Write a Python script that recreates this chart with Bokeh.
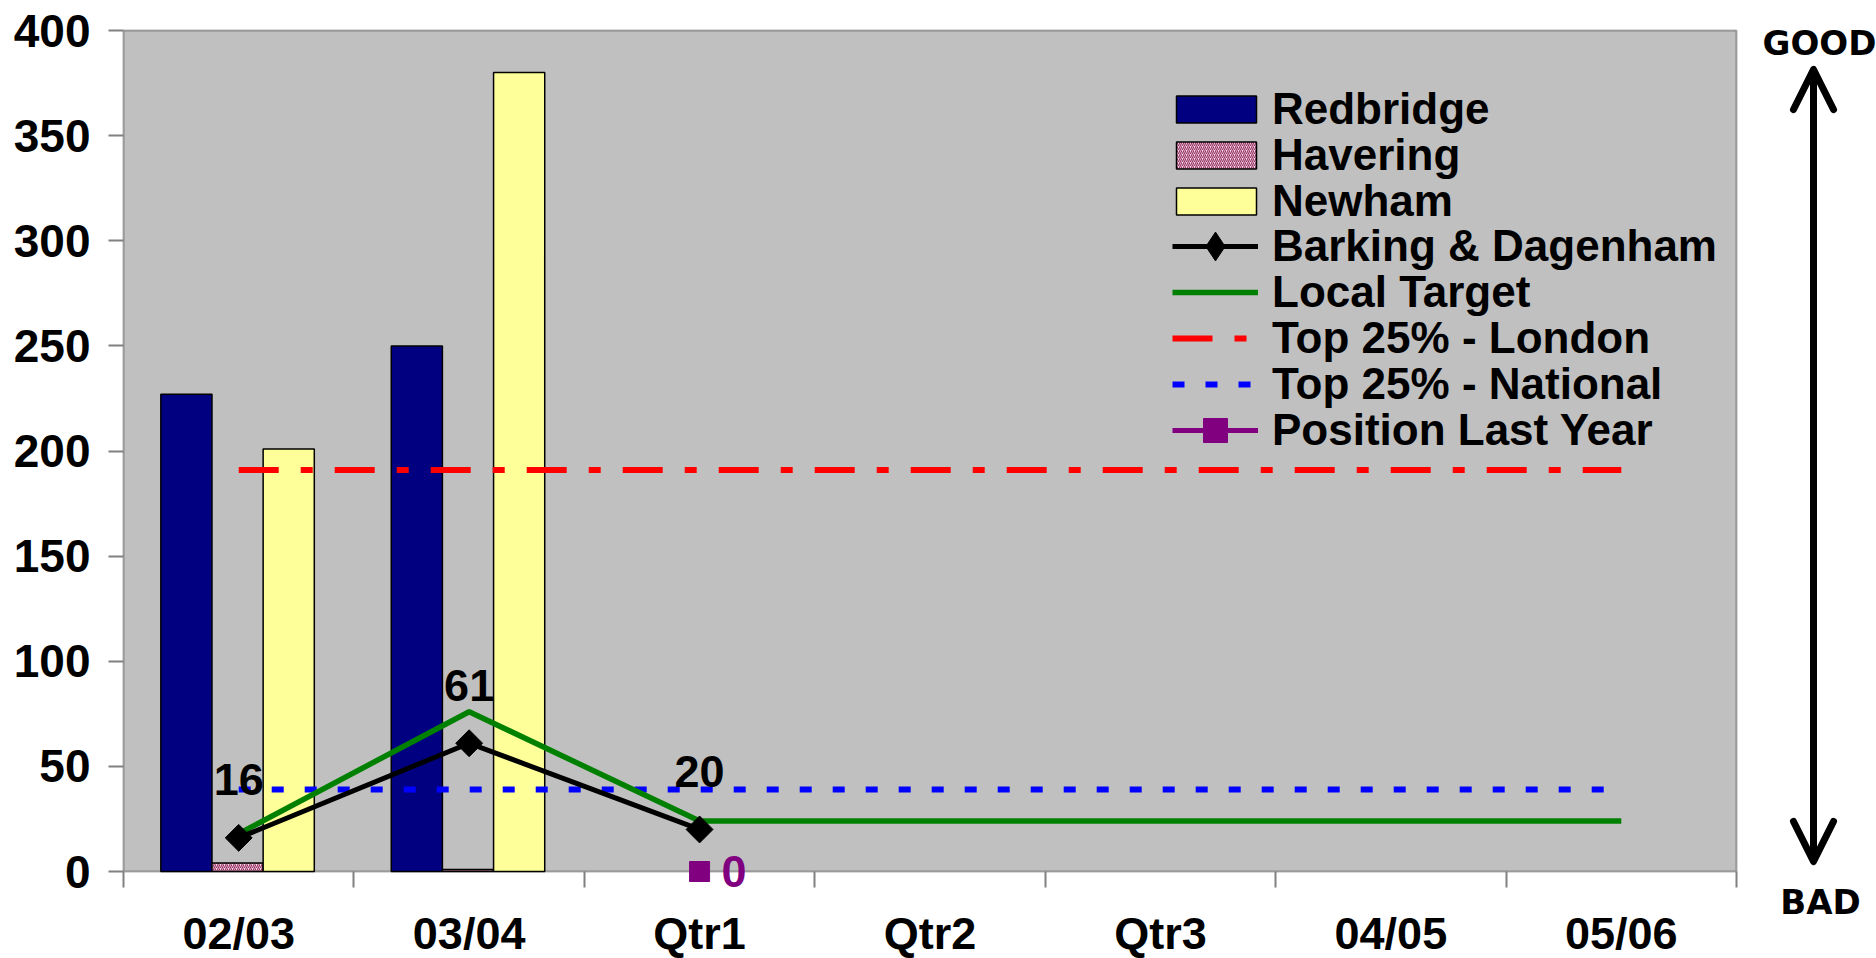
from bokeh.plotting import figure
from bokeh.models import (FixedTicker, Legend, LegendItem, Label, Arrow, OpenHead,
                          Range1d, BoxAnnotation)
from bokeh.core.properties import value
from bokeh.embed import file_html
from bokeh.resources import INLINE

# ---------------- data ----------------
categories = ["02/03", "03/04", "Qtr1", "Qtr2", "Qtr3", "04/05", "05/06"]
y_ticks = [0, 50, 100, 150, 200, 250, 300, 350, 400]

bar_categories = ["02/03", "03/04"]
redbridge = [227, 250]
havering = [4, 1]
newham = [201, 380]

barking_categories = ["02/03", "03/04", "Qtr1"]
barking = [16, 61, 20]

local_target = [18, 76, 24, 24, 24, 24, 24]
top25_london = [191, 191, 191, 191, 191, 191, 191]
top25_national = [39, 39, 39, 39, 39, 39, 39]

last_year_categories = ["Qtr1"]
position_last_year = [0]

# ---------------- layout constants (pixels) ----------------
W, H = 1876, 958
PLOT_L, PLOT_R, PLOT_T, PLOT_B = 123, 1736, 30, 871   # grey plot area on the page
N = len(categories)
Y_MIN, Y_MAX = y_ticks[0], y_ticks[-1]
px_x = (PLOT_R - PLOT_L) / N
px_y = (PLOT_B - PLOT_T) / (Y_MAX - Y_MIN)

FONT = "Liberation Sans"
idx = {c: i for i, c in enumerate(categories)}
def centers(cats):
    return [idx[c] + 0.5 for c in cats]

BW = 0.222
BC = 0.495

# the frame covers the whole canvas; axes are pinned to the grey area
p = figure(width=W, height=H, output_backend="svg", toolbar_location=None, title=None,
           x_range=Range1d(-PLOT_L / px_x, N + (W - PLOT_R) / px_x),
           y_range=Range1d(Y_MIN - (H - PLOT_B) / px_y, Y_MAX + PLOT_T / px_y),
           min_border=0, min_border_left=0, min_border_right=0,
           min_border_top=0, min_border_bottom=0)
p.background_fill_color = "white"
p.border_fill_color = "white"
p.outline_line_color = None
p.xgrid.grid_line_color = None
p.ygrid.grid_line_color = None

# grey plot area with black border
p.add_layout(BoxAnnotation(left=0, right=N, bottom=Y_MIN, top=Y_MAX,
                           fill_color="#C0C0C0", fill_alpha=1,
                           line_color="black", line_width=2, level="underlay"))

# bars
bx = [idx[c] + BC for c in bar_categories]
r_red = p.vbar(x=[v - BW for v in bx], top=redbridge, width=BW, bottom=0,
               fill_color="#000080", line_color="black", line_width=1.5)
r_hav = p.vbar(x=bx, top=havering, width=BW, bottom=0,
               fill_color="#F8E0EA", line_color="black", line_width=1.5,
               hatch_pattern="right_diagonal_line", hatch_color="#993366",
               hatch_scale=4, hatch_weight=1.2)
r_new = p.vbar(x=[v + BW for v in bx], top=newham, width=BW, bottom=0,
               fill_color="#FFFF99", line_color="black", line_width=1.5)

# reference lines
xc = centers(categories)
r_lon = p.line(xc, top25_london, line_color="#FF0000", line_width=6,
               line_dash="40 22 12 22")
r_nat = p.line(xc, top25_national, line_color="#0000FF", line_width=6,
               line_dash="12 21")

# local target
r_tgt = p.line(xc, local_target, line_color="#008000", line_width=5.5)

# Barking & Dagenham
bkx = centers(barking_categories)
r_bk_l = p.line(bkx, barking, line_color="black", line_width=5)
r_bk_m = p.scatter(bkx, barking, marker="square", size=19, angle=0.785398,
                   fill_color="black", line_color="black")
# diamond shown only in the legend (size 0 on the plot itself)
r_bk_leg = p.scatter(bkx, barking, marker="diamond", size=0,
                     fill_color="black", line_color="black")
p.text(x=bkx, y=barking, text=[str(v) for v in barking],
       text_font=value(FONT), text_font_style="bold", text_font_size="45px",
       text_align="center", text_baseline="alphabetic", y_offset=-58,
       text_color="black")

# Position last year
lyx = centers(last_year_categories)
r_ly_l = p.line(lyx, position_last_year, line_color="#800080", line_width=5)
r_ly_m = p.scatter(lyx, position_last_year, marker="square", size=20,
                   fill_color="#800080", line_color="#800080")
p.text(x=lyx, y=position_last_year, text=[str(v) for v in position_last_year],
       x_offset=22, text_align="left", text_baseline="middle",
       text_color="#800080", text_font=value(FONT),
       text_font_style="bold", text_font_size="45px")

# axes (pinned to the grey area's edges)
yax = p.yaxis[0]
yax.fixed_location = 0
yax.ticker = FixedTicker(ticks=y_ticks)
yax.axis_line_color = None
yax.major_tick_line_color = "#808080"
yax.major_tick_line_width = 2
yax.major_tick_out = 15
yax.major_tick_in = 0
yax.minor_tick_line_color = None
yax.major_label_standoff = 18
yax.major_label_text_font = FONT
yax.major_label_text_font_style = "bold"
yax.major_label_text_font_size = "46px"
yax.major_label_text_color = "black"

xax = p.xaxis[0]
xax.fixed_location = 0
xax.ticker = FixedTicker(ticks=xc, minor_ticks=[float(i) for i in range(N + 1)])
xax.major_label_overrides = {x: c for x, c in zip(xc, categories)}
xax.axis_line_color = None
xax.major_tick_line_color = None
xax.major_tick_out = 16
xax.major_tick_in = 0
xax.minor_tick_line_color = "#808080"
xax.minor_tick_line_width = 2
xax.minor_tick_out = 16
xax.minor_tick_in = 0
xax.major_label_standoff = 20
xax.major_label_text_line_height = 1.0
xax.major_label_text_font = FONT
xax.major_label_text_font_style = "bold"
xax.major_label_text_font_size = "45px"
xax.major_label_text_color = "black"

# legend: one single-row legend per entry, stacked at the reference spacing
ROW_H = 50
legend_rows = [
    # label, renderers, glyph_left, glyph_width, glyph_height, standoff
    ("Redbridge", [r_red], 1166, 100, 34, 6),
    ("Havering", [r_hav], 1166, 100, 34, 6),
    ("Newham", [r_new], 1166, 100, 34, 6),
    ("Barking & Dagenham", [r_bk_l, r_bk_leg], 1172, 86, 72, 14),
    ("Local Target", [r_tgt], 1172, 86, 34, 14),
    ("Top 25% - London", [r_lon], 1172, 86, 34, 14),
    ("Top 25% - National", [r_nat], 1172, 86, 34, 14),
    ("Position Last Year", [r_ly_l, r_ly_m], 1172, 86, 60, 14),
]
FIRST_ROW_Y, ROW_STEP = 109, 45.8
for i, (lab, rends, gx, gw, gh, so) in enumerate(legend_rows):
    h = max(ROW_H, gh)
    cy = FIRST_ROW_Y + i * ROW_STEP
    lg = Legend(items=[LegendItem(label=lab, renderers=rends)],
                location=(gx, int(round(H - (cy + h / 2)))),
                padding=0, margin=0, spacing=0,
                glyph_width=gw, glyph_height=gh, label_height=20,
                label_standoff=so, border_line_alpha=0, background_fill_alpha=0,
                label_text_font=FONT, label_text_font_style="bold",
                label_text_font_size="44px", label_text_color="black")
    p.add_layout(lg)

# GOOD / BAD arrow to the right of the plot area
ax_x = N + (1813 - PLOT_R) / px_x
p.add_layout(Arrow(x_start=ax_x, y_start=(PLOT_B - 861) / px_y,
                   x_end=ax_x, y_end=(PLOT_B - 69) / px_y,
                   line_width=7, line_color="black",
                   start=OpenHead(size=40, line_width=7, line_color="black",
                                  line_cap="round", line_join="round"),
                   end=OpenHead(size=40, line_width=7, line_color="black",
                                line_cap="round", line_join="round")))
p.add_layout(Label(x=N + (1819 - PLOT_R) / px_x, y=(PLOT_B - 42) / px_y, text="GOOD",
                   text_align="center", text_baseline="middle",
                   text_font="DejaVu Sans", text_font_style="bold",
                   text_font_size="34px", text_color="black"))
p.add_layout(Label(x=N + (1820 - PLOT_R) / px_x, y=(PLOT_B - 901) / px_y, text="BAD",
                   text_align="center", text_baseline="middle",
                   text_font="DejaVu Sans", text_font_style="bold",
                   text_font_size="34px", text_color="black"))

open("out.html", "w").write(file_html(p, INLINE))
